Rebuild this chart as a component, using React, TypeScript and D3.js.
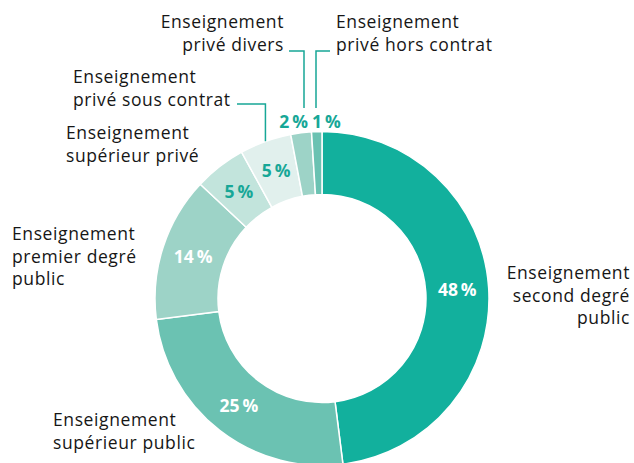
import React from "react";
import * as d3 from "d3";

const categories = [
  "Enseignement second degré public",
  "Enseignement supérieur public",
  "Enseignement premier degré public",
  "Enseignement supérieur privé",
  "Enseignement privé sous contrat",
  "Enseignement privé divers",
  "Enseignement privé hors contrat",
];
const values = [48, 25, 14, 5, 5, 2, 1];
const labelLines = [
  ["Enseignement", "second degré", "public"],
  ["Enseignement", "supérieur public"],
  ["Enseignement", "premier degré", "public"],
  ["Enseignement", "supérieur privé"],
  ["Enseignement", "privé sous contrat"],
  ["Enseignement", "privé divers"],
  ["Enseignement", "privé hors contrat"],
];

// styles / layout
const colors = ["#12b09d", "#6bc2b2", "#9dd3c7", "#c2e4dc", "#e1f0ed", "#9dd3c7", "#6bc2b2"];
const pctColors = ["#ffffff", "#ffffff", "#ffffff", "#17a797", "#17a797", "#17a797", "#17a797"];
const nameLayout = [
  { x: 630, y: 273, anchor: "end" },
  { x: 53, y: 420, anchor: "start" },
  { x: 12, y: 234, anchor: "start" },
  { x: 66, y: 133, anchor: "start" },
  { x: 73, y: 77, anchor: "start" },
  { x: 284, y: 22, anchor: "end" },
  { x: 336, y: 22, anchor: "start" },
];
// outside percent labels (null = placed at centroid)
const pctOutside: ({ x: number; y: number; anchor: string } | null)[] = [
  null, null, null, null, null,
  { x: 308, y: 122, anchor: "end" },
  { x: 312, y: 122, anchor: "start" },
];
// leader lines: horizontal y, label end x
const leaders: ({ y: number; x0: number } | null)[] = [
  null, null, null, null,
  { y: 104, x0: 237 },
  { y: 51, x0: 289 },
  { y: 51, x0: 330 },
];

const W = 634, H = 463;
const cx = 322, cy = 298.5;
const rOuter = 167, rInner = 104;
const teal = "#17a797";
const font = "'Open Sans', sans-serif";

export default function App() {
  const pie = d3.pie<number>().sort(null).value((d) => d);
  const arcs = pie(values);
  const arc = d3.arc<d3.PieArcDatum<number>>().innerRadius(rInner).outerRadius(rOuter);
  const labelArc = d3.arc<d3.PieArcDatum<number>>().innerRadius((rInner + rOuter) / 2).outerRadius((rInner + rOuter) / 2);
  const lineH = 22.5;

  return (
    <svg width={W} height={H} style={{ position: "absolute", left: 0, top: 0 }} fontFamily={font}>
      <g transform={`translate(${cx},${cy})`}>
        {arcs.map((a, i) => (
          <path key={categories[i]} d={arc(a) || ""} fill={colors[i]} stroke="#fff" strokeWidth={1.5} />
        ))}
      </g>
      {arcs.map((a, i) => {
        const ld = leaders[i];
        if (!ld) return null;
        const mid = (a.startAngle + a.endAngle) / 2;
        const isSmall = pctOutside[i] != null;
        const ex = cx + rOuter * Math.sin(mid);
        const ey = isSmall ? 108 : cy - rOuter * Math.cos(mid);
        const lx = i === 5 ? 304 : i === 6 ? 316 : ex;
        return (
          <polyline key={"l" + i} points={`${ld.x0},${ld.y} ${lx},${ld.y} ${lx},${ey}`} fill="none" stroke={teal} strokeWidth={1.5} />
        );
      })}
      {arcs.map((a, i) => {
        const o = pctOutside[i];
        const [px, py] = o ? [o.x, o.y] : (() => { const c = labelArc.centroid(a); return [c[0] + cx, c[1] + cy]; })();
        return (
          <text key={"p" + i} x={px} y={py} dy="0.35em" textAnchor={o ? o.anchor : "middle"} fill={pctColors[i]} fontSize={17.5} fontWeight={700}>
            {`${values[i]}\u2009%`}
          </text>
        );
      })}
      {labelLines.map((lines, i) => (
        <text key={"n" + i} x={nameLayout[i].x} textAnchor={nameLayout[i].anchor} fill="#161616" fontSize={17.5} letterSpacing={0.6}>
          {lines.map((t, j) => (
            <tspan key={j} x={nameLayout[i].x} y={nameLayout[i].y + j * lineH} dy="0.35em">{t}</tspan>
          ))}
        </text>
      ))}
    </svg>
  );
}
